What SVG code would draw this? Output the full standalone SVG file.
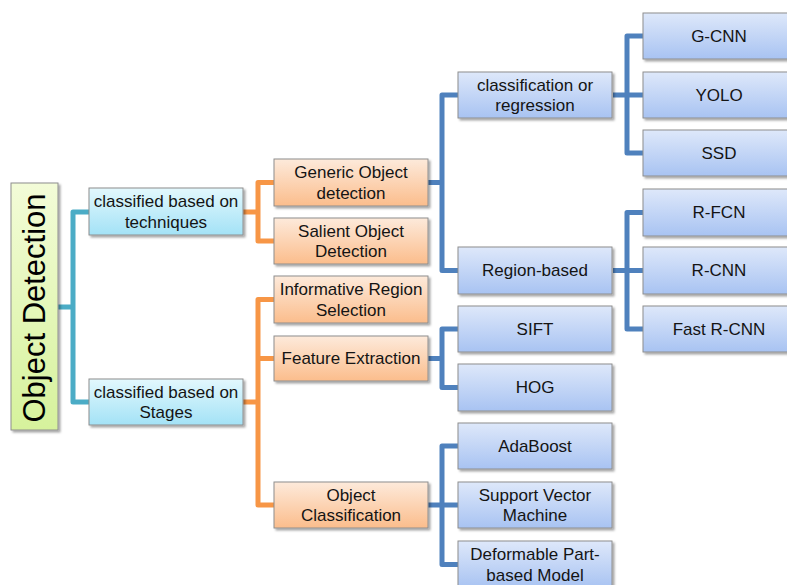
<svg xmlns="http://www.w3.org/2000/svg" width="787" height="585" viewBox="0 0 787 585">
<defs>
<linearGradient id="gGreen" x1="0" y1="0" x2="0" y2="1"><stop offset="0" stop-color="#f3fcd8"/><stop offset="1" stop-color="#d6f29c"/></linearGradient>
<linearGradient id="gCyan" x1="0" y1="0" x2="0" y2="1"><stop offset="0" stop-color="#e3f8fd"/><stop offset="1" stop-color="#a3e2f6"/></linearGradient>
<linearGradient id="gOrange" x1="0" y1="0" x2="0" y2="1"><stop offset="0" stop-color="#fdeadb"/><stop offset="1" stop-color="#fbbd8c"/></linearGradient>
<linearGradient id="gBlue" x1="0" y1="0" x2="0" y2="1"><stop offset="0" stop-color="#dee8fa"/><stop offset="1" stop-color="#a8c3f2"/></linearGradient>
<filter id="sh" x="-10%" y="-10%" width="130%" height="140%"><feDropShadow dx="2" dy="2" stdDeviation="1.2" flood-color="#000" flood-opacity="0.35"/></filter>
</defs>
<style>
.box{stroke:#8e8e8e;stroke-width:1;filter:url(#sh)}
.green{fill:url(#gGreen)}
.cyan{fill:url(#gCyan)}
.orange{fill:url(#gOrange)}
.blue{fill:url(#gBlue)}
text{font-family:"Liberation Sans",Arial,sans-serif;font-size:17px;fill:#141414;text-anchor:middle}
.root{font-size:31px;fill:#000}
.c{fill:none;stroke-width:5;stroke-linejoin:round;stroke-linecap:butt}
.teal{stroke:#4bacc6}
.org{stroke:#f79646}
.blu{stroke:#4f81bd}
</style>
<rect width="787" height="585" fill="#fff"/>
<g id="connectors">
<path class="c teal" d="M58 307H73M89 212H73V402H89"/>
<path class="c org" d="M243 212H258M274 182.5H258V241H274"/>
<path class="c org" d="M243 402H258M274 299.5H258V505H274M258 358.5H274"/>
<path class="c blu" d="M428 182.5H442M458 95H442V270.5H458"/>
<path class="c blu" d="M613 95H643M643 36H627V153H643"/>
<path class="c blu" d="M613 270.5H643M643 212.5H627V329H643"/>
<path class="c blu" d="M428 358.5H442M458 329H442V387.5H458"/>
<path class="c blu" d="M428 505H458M458 446H442V564.5H458"/>
</g>
<g id="n-root"><rect class="box green" x="11" y="183" width="47" height="247"/><text class="root" transform="translate(45,308) rotate(-90)">Object Detection</text></g>
<g id="n-tech"><rect class="box cyan" x="89" y="188" width="154" height="47"/><text x="166" y="207">classified based on</text><text x="166" y="227.5">techniques</text></g>
<g id="n-stages"><rect class="box cyan" x="89" y="379" width="154" height="46"/><text x="166" y="397.5">classified based on</text><text x="166" y="418">Stages</text></g>
<g id="n-generic"><rect class="box orange" x="274" y="159" width="154" height="47"/><text x="351" y="178">Generic Object</text><text x="351" y="198.5">detection</text></g>
<g id="n-salient"><rect class="box orange" x="274" y="218" width="154" height="46"/><text x="351" y="236.5">Salient Object</text><text x="351" y="257">Detection</text></g>
<g id="n-informative"><rect class="box orange" x="274" y="276" width="154" height="47"/><text x="351" y="295">Informative Region</text><text x="351" y="315.5">Selection</text></g>
<g id="n-feature"><rect class="box orange" x="274" y="336" width="154" height="45"/><text x="351" y="364">Feature Extraction</text></g>
<g id="n-objclass"><rect class="box orange" x="274" y="482" width="154" height="46"/><text x="351" y="500.5">Object</text><text x="351" y="521">Classification</text></g>
<g id="n-classreg"><rect class="box blue" x="458" y="72" width="154" height="46"/><text x="535" y="90.5">classification or</text><text x="535" y="111">regression</text></g>
<g id="n-region"><rect class="box blue" x="458" y="247" width="154" height="47"/><text x="535" y="276">Region-based</text></g>
<g id="n-sift"><rect class="box blue" x="458" y="306" width="154" height="46"/><text x="535" y="334.5">SIFT</text></g>
<g id="n-hog"><rect class="box blue" x="458" y="364" width="154" height="47"/><text x="535" y="393">HOG</text></g>
<g id="n-adaboost"><rect class="box blue" x="458" y="423" width="154" height="46"/><text x="535" y="451.5">AdaBoost</text></g>
<g id="n-svm"><rect class="box blue" x="458" y="482" width="154" height="46"/><text x="535" y="500.5">Support Vector</text><text x="535" y="521">Machine</text></g>
<g id="n-dpm"><rect class="box blue" x="458" y="541" width="154" height="47"/><text x="535" y="560">Deformable Part-</text><text x="535" y="580.5">based Model</text></g>
<g id="n-gcnn"><rect class="box blue" x="643" y="13" width="154" height="46"/><text x="719" y="41.5">G-CNN</text></g>
<g id="n-yolo"><rect class="box blue" x="643" y="72" width="154" height="46"/><text x="719" y="100.5">YOLO</text></g>
<g id="n-ssd"><rect class="box blue" x="643" y="130" width="154" height="46"/><text x="719" y="158.5">SSD</text></g>
<g id="n-rfcn"><rect class="box blue" x="643" y="189" width="154" height="47"/><text x="719" y="218">R-FCN</text></g>
<g id="n-rcnn"><rect class="box blue" x="643" y="247" width="154" height="47"/><text x="719" y="276">R-CNN</text></g>
<g id="n-fastrcnn"><rect class="box blue" x="643" y="306" width="154" height="46"/><text x="719" y="334.5">Fast R-CNN</text></g>
</svg>
